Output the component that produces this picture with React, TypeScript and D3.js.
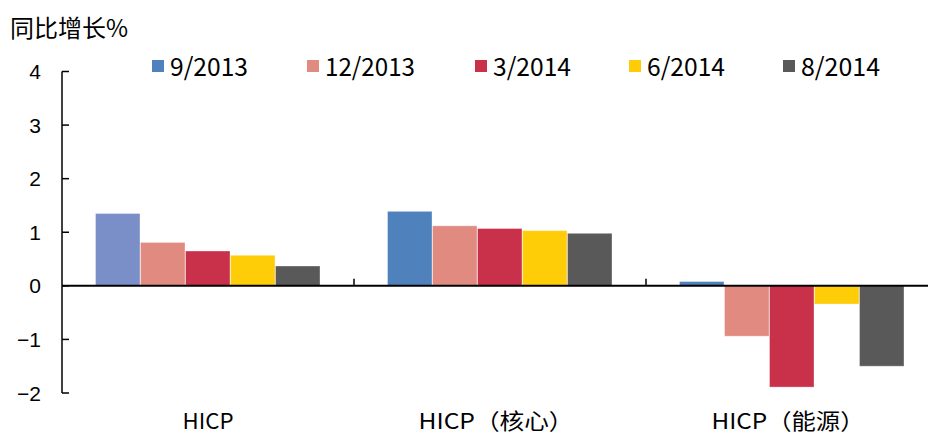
import React from "react";
import * as d3 from "d3";

const categories = ["HICP", "HICP（核心）", "HICP（能源）"];
const categoryLabelWidths = [51, 155, 153];
const series = ["9/2013", "12/2013", "3/2014", "6/2014", "8/2014"];
const seriesColors = ["#4F81BD", "#E08A80", "#C9304A", "#FFCC08", "#595959"];
const values: number[][] = [
  [1.35, 1.39, 0.08],
  [0.81, 1.12, -0.94],
  [0.65, 1.07, -1.89],
  [0.57, 1.03, -0.34],
  [0.37, 0.98, -1.5],
];
const yTicks = [-2, -1, 0, 1, 2, 3, 4];
const legendX = [152, 307, 475, 629, 783];
const legendTextWidths = [78, 90, 78, 78, 79];

export default function App() {
  const W = 928, H = 437;
  const left = 62, right = 938;
  const y = d3.scaleLinear().domain([-2, 4]).range([393, 71.5]);
  const x0 = d3.scaleBand().domain(categories).range([left, right]).paddingInner(0).paddingOuter(0);
  const bw = 45;
  const groupPad = (x0.bandwidth() - bw * series.length) / 2;
  const cjk = "'Noto Sans CJK SC', 'Noto Sans', sans-serif";
  return (
    <svg width={W} height={H} style={{ position: "absolute", left: 0, top: 0, background: "#fff" }}>
      <text x={10} y={37} fontFamily={cjk} fontSize={24} fill="#000" textLength={118} lengthAdjust="spacingAndGlyphs">同比增长%</text>
      {series.map((s, i) => (
        <g key={s}>
          <rect x={legendX[i]} y={60} width={12} height={12} fill={seriesColors[i]} />
          <text x={legendX[i] + 18} y={76} fontFamily={cjk} fontSize={25} fill="#000"
            textLength={legendTextWidths[i]} lengthAdjust="spacingAndGlyphs">{s}</text>
        </g>
      ))}
      {categories.map((c, ci) =>
        series.map((s, si) => {
          const v = values[si][ci];
          const bx = (x0(c) as number) + groupPad + si * bw;
          const top = Math.min(y(v), y(0));
          const h = Math.abs(y(v) - y(0));
          const fill = ci === 0 && si === 0 ? "#7A8FC8" : seriesColors[si];
          return (
            <rect key={c + s} x={bx} y={top} width={bw - 0.5} height={h} fill={fill}
              stroke="#fff" strokeOpacity={0.35} strokeWidth={1} />
          );
        })
      )}
      <line x1={left} x2={left} y1={y(4)} y2={y(-2)} stroke="#000" strokeWidth={1.5} />
      {yTicks.map((t) => (
        <g key={t}>
          <line x1={left} x2={left + 7} y1={y(t)} y2={y(t)} stroke="#000" strokeWidth={1.5} />
          <text x={41} y={y(t) + 7.5} textAnchor="end" fontFamily="'Liberation Sans', Arial, sans-serif" fontSize={21} fill="#000">
            {t < 0 ? "\u2212" + Math.abs(t) : t}
          </text>
        </g>
      ))}
      <line x1={left} x2={W} y1={y(0)} y2={y(0)} stroke="#000" strokeWidth={2} />
      {categories.slice(1).map((c) => (
        <line key={c} x1={x0(c) as number} x2={x0(c) as number} y1={y(0)} y2={y(0) - 7} stroke="#000" strokeWidth={1.5} />
      ))}
      {categories.map((c, ci) => (
        <text key={c} x={(x0(c) as number) + x0.bandwidth() / 2 - (ci === 0 ? 0 : 4)} y={429} textAnchor="middle" fontFamily={cjk} fontSize={22} fill="#000"
          textLength={categoryLabelWidths[ci]} lengthAdjust="spacingAndGlyphs">{c}</text>
      ))}
    </svg>
  );
}
